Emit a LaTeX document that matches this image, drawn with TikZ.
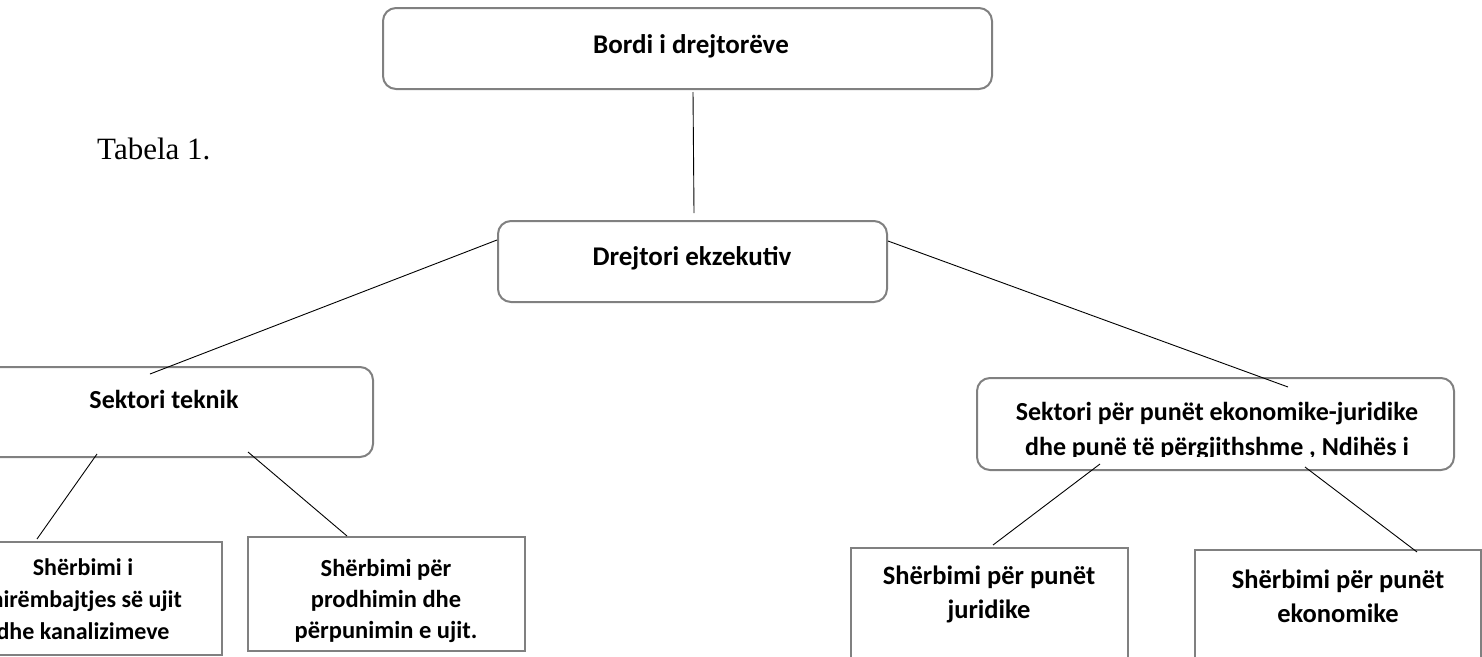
\documentclass[tikz,border=0pt]{standalone}
\usepackage{fontspec}
\setmainfont{Carlito}
\newfontfamily\tabfont{Liberation Serif}
\definecolor{boxgray}{RGB}{128,128,128}
\begin{document}
\begin{tikzpicture}[x=1pt,y=-1pt,
    rbox/.style={draw=boxgray,line width=2pt,rounded corners=13pt,inner sep=0pt},
    sbox/.style={draw=boxgray,line width=2pt,inner sep=0pt},
    lbl/.style={align=center,inner sep=0pt,anchor=base},
    conn/.style={draw=black,line width=0.9pt}]
    \useasboundingbox (0,0) rectangle (1482,656);
    \clip (0,0) rectangle (1482,656);
    % boxes
    \node[rbox,minimum width=609pt,minimum height=81pt] (bordi) at (687.5,48.5) {};
    \node[rbox,minimum width=389pt,minimum height=81pt] (drejtori) at (692.5,261.5) {};
    \node[rbox,minimum width=418pt,minimum height=90pt] (teknik) at (164,412) {};
    \node[rbox,minimum width=477pt,minimum height=92pt] (ekjur) at (1215.5,424) {};
    \node[sbox,minimum width=278pt,minimum height=113pt] (mirembajtja) at (83,598.5) {};
    \node[sbox,minimum width=277pt,minimum height=114pt] (prodhimi) at (386.5,594) {};
    \node[sbox,minimum width=277pt,minimum height=114pt] (juridike) at (989.5,605) {};
    \node[sbox,minimum width=286pt,minimum height=114pt] (ekonomike) at (1338,607) {};
    % texts (base = last line)
    \node[lbl,font=\fontsize{27}{32}\selectfont\bfseries] (bordi-t) at (691,53) {Bordi i drejtorëve};
    \node[lbl,font=\fontsize{27}{32}\selectfont\bfseries] (drejtori-t) at (692,265) {Drejtori ekzekutiv};
    \node[lbl,font=\fontsize{26}{32}\selectfont\bfseries] (teknik-t) at (164,408) {Sektori teknik};
    \begin{scope}
        \clip (977,378) rectangle (1454,456);
        \node[lbl,font=\fontsize{26}{35}\selectfont\bfseries] (ekjur-t) at (1217,455) {Sektori për punët ekonomike-juridike\\dhe punë të përgjithshme , Ndihës i};
    \end{scope}
    \node[lbl,font=\fontsize{24}{32}\selectfont\bfseries] (mirembajtja-t) at (83,639) {Shërbimi i\\mirëmbajtjes së ujit\\dhe kanalizimeve};
    \node[lbl,font=\fontsize{24.5}{31}\selectfont\bfseries] (prodhimi-t) at (386,638) {Shërbimi për\\prodhimin dhe\\përpunimin e ujit.};
    \node[lbl,font=\fontsize{26.5}{34}\selectfont\bfseries] (juridike-t) at (989,618) {Shërbimi për punët\\juridike};
    \node[lbl,font=\fontsize{26.5}{34}\selectfont\bfseries] (ekonomike-t) at (1338,622) {Shërbimi për punët\\ekonomike};
    \node[anchor=base west,inner sep=0pt,font=\tabfont\fontsize{31}{36}\selectfont] (tabela) at (97,159) {Tabela 1.};
    % connectors
    \draw[conn] ([xshift=5.5pt,yshift=-2pt]bordi.south) -- ([xshift=1.5pt,yshift=7pt]drejtori.north);
    \draw[conn] ([yshift=21.5pt]drejtori.west) -- ([xshift=-14pt,yshift=-8pt]teknik.north);
    \draw[conn] ([yshift=20.5pt]drejtori.east) -- ([xshift=72.5pt,yshift=-10pt]ekjur.north);
    \draw[conn] ([xshift=-67pt,yshift=4pt]teknik.south) -- ([xshift=-46pt,yshift=2pt]mirembajtja.north);
    \draw[conn] ([xshift=84pt,yshift=6pt]teknik.south) -- ([xshift=-39.5pt]prodhimi.north);
    \draw[conn] ([xshift=-115.5pt,yshift=7pt]ekjur.south) -- ([xshift=3.5pt,yshift=2pt]juridike.north);
    \draw[conn] ([xshift=89.5pt,yshift=4pt]ekjur.south) -- ([xshift=79pt,yshift=-3pt]ekonomike.north);
\end{tikzpicture}
\end{document}
